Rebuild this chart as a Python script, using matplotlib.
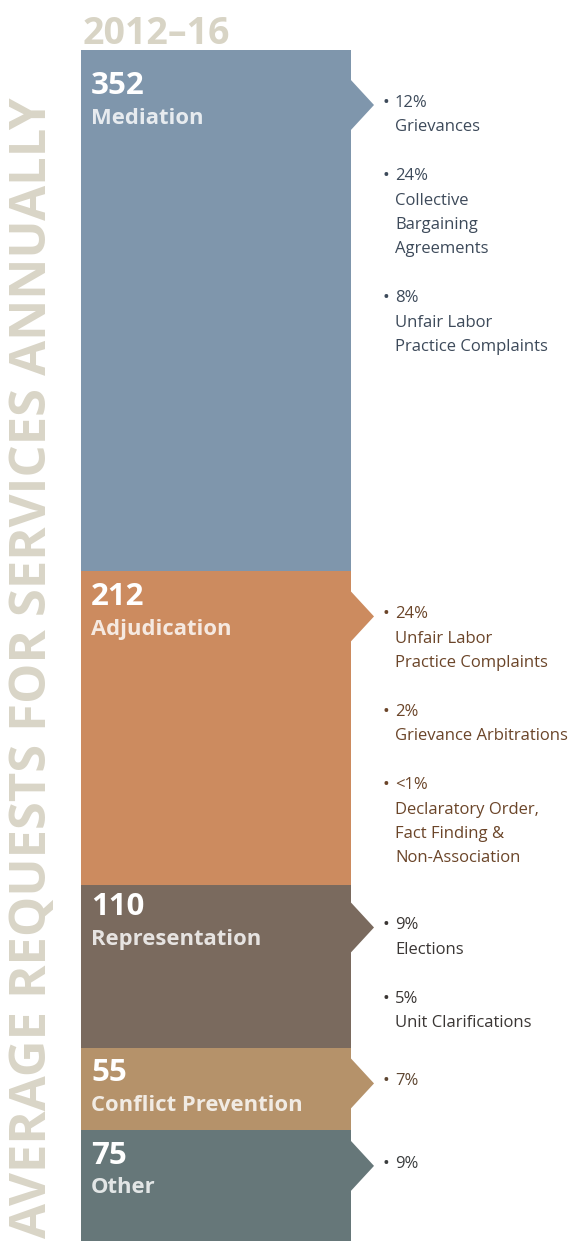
import matplotlib.pyplot as plt
from matplotlib.patches import Polygon

# Average requests for services annually, 2012-16
categories = ['Mediation', 'Adjudication', 'Representation', 'Conflict Prevention', 'Other']
requests = [352, 212, 110, 55, 75]
colors = ['#7f96ac', '#cc8b5f', '#7a6a5e', '#b5926a', '#667779']
text_colors = ['#3d4a5a', '#6b4529', '#3a3634', '#5e4631', '#3a3d3e']

mediation_items = [('12%', ['Grievances']),
                   ('24%', ['Collective', 'Bargaining', 'Agreements']),
                   ('8%', ['Unfair Labor', 'Practice Complaints'])]
adjudication_items = [('24%', ['Unfair Labor', 'Practice Complaints']),
                      ('2%', ['Grievance Arbitrations']),
                      ('<1%', ['Declaratory Order,', 'Fact Finding &', 'Non-Association'])]
representation_items = [('9%', ['Elections']),
                        ('5%', ['Unit Clarifications'])]
prevention_items = [('7%', [])]
other_items = [('9%', [])]
items = [mediation_items, adjudication_items, representation_items,
         prevention_items, other_items]

# layout (pixels)
W, H = 581, 1241
bar_top = 50
tip_off = [55, 45, 42, 35, 36]
num_off = [36, 26, 22, 25, 26]
line_h = 24.4

plt.rcParams['font.family'] = ['Open Sans', 'DejaVu Sans']

fig = plt.figure(figsize=(W / 100, H / 100), dpi=100)
ax = fig.add_axes([81 / W, 0, 500 / W, (H - bar_top) / H])
total = sum(requests)
ax.set_xlim(0, 500)
ax.set_ylim(total, 0)
ax.axis('off')
px = total / (H - bar_top)  # data units per pixel

tops = [sum(requests[:i]) for i in range(len(requests))]
ax.bar(0, requests, bottom=tops, width=270, align='edge', color=colors, linewidth=0)

for i, (cat, val, top) in enumerate(zip(categories, requests, tops)):
    tip = top + tip_off[i] * px
    ax.add_patch(Polygon([(269, tip - 26 * px), (293, tip), (269, tip + 26 * px)],
                         closed=True, color=colors[i], lw=0))
    ny = top + num_off[i] * px
    ax.text(10, ny, str(val), color='white', fontsize=22.5, fontweight='bold',
            ha='left', va='center')
    ax.text(10, ny + 32 * px, cat, color='white', alpha=0.82, fontsize=15.8,
            fontweight='bold', ha='left', va='center')
    # bullet list
    y = tip - 2 * px
    for pct, lines in items[i]:
        ax.text(301, y, '•', color=text_colors[i], fontsize=13, ha='left', va='center')
        ax.text(314, y, pct, color=text_colors[i], fontsize=12, ha='left', va='center')
        y += line_h * px
        for ln in lines:
            ax.text(314, y, ln, color=text_colors[i], fontsize=12, ha='left', va='center')
            y += line_h * px
        y += line_h * px

fig.text(83 / W, 1 - 44 / H, '2012–16', color='#d8d4c5', fontsize=27,
         fontweight='bold', ha='left', va='baseline')
fig.text(33 / W, 1 - 1238 / H, 'AVERAGE REQUESTS FOR SERVICES ANNUALLY', color='#d9d5c7',
         fontsize=36.5, fontweight='bold', rotation=90, ha='center', va='bottom')

fig.savefig('out.png', dpi=100)
